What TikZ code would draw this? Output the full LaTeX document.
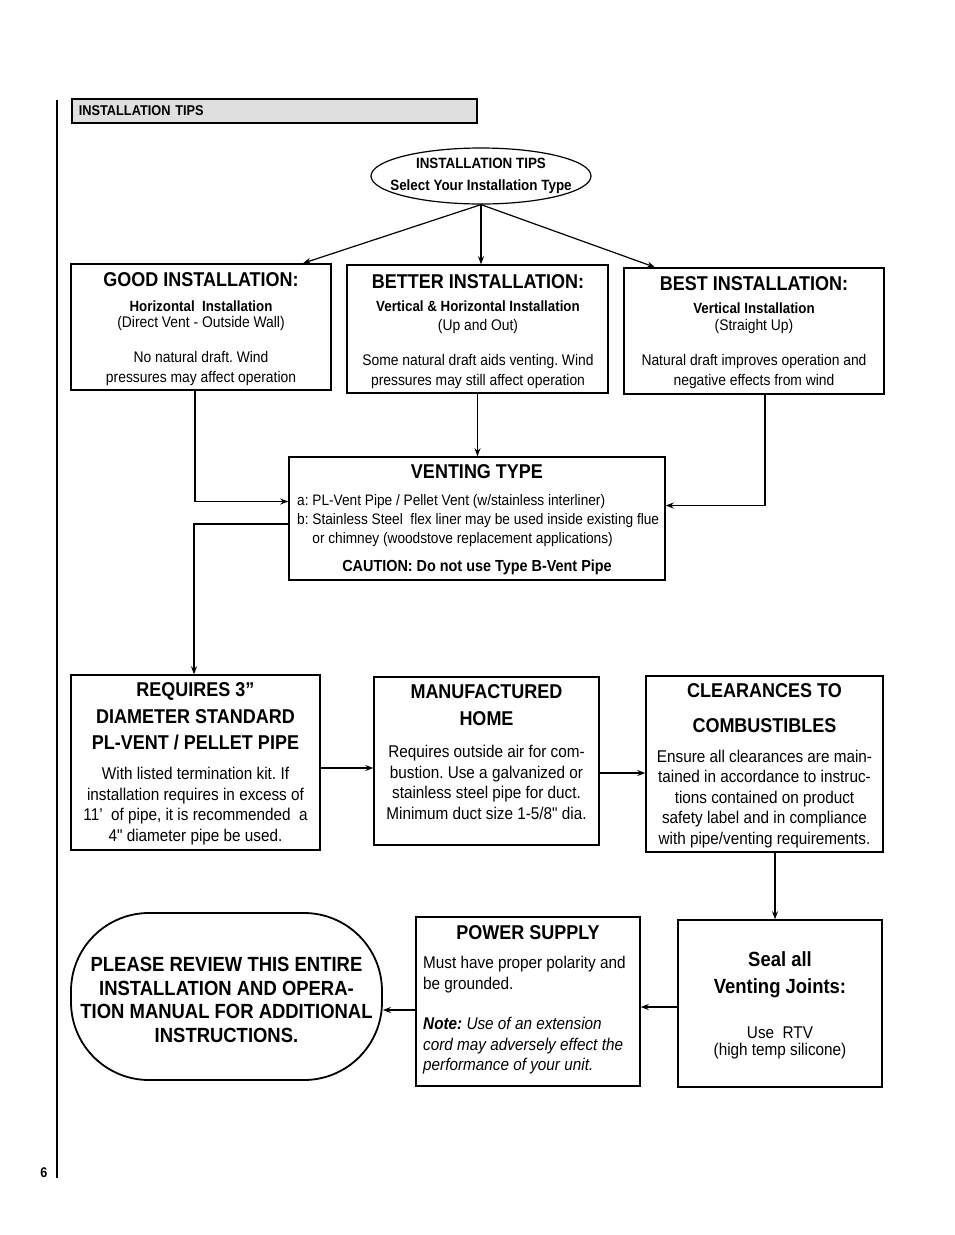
\documentclass[tikz,border=0pt]{standalone}
\usepackage{fontspec}
\setmainfont{Liberation Sans}[FakeStretch=0.9, Ligatures=TeXOff]
\usetikzlibrary{arrows.meta,shapes.geometric}
\tikzset{
    box/.style={draw, line width=1.5pt, inner sep=0pt},
    ttl/.style={font=\bfseries\fontsize{20}{26}\selectfont, align=center, inner sep=0pt},
    sub/.style={font=\bfseries\fontsize{14.8}{20}\selectfont, align=center, inner sep=0pt},
    txt/.style={font=\fontsize{15.4}{20}\selectfont, align=center, inner sep=0pt},
    txtl/.style={font=\fontsize{17}{20.5}\selectfont, align=center, inner sep=0pt},
    flow/.style={line width=1.2pt, -{Stealth[length=8pt,width=6pt]}}
}
\frenchspacing

\begin{document}
\begin{tikzpicture}[x=1pt,y=-1pt]

		% Page
		\fill [white] (0,0) rectangle (954,1235);
		\useasboundingbox (0,0) rectangle (954,1235);
		\draw [line width=1.8pt] (57,100) -- (57,1178);
		\node [font=\bfseries\fontsize{14}{16}\selectfont] (pagenum) at (44,1173) {6};

		% Header bar
		\node [box, fill=gray!25, anchor=west, inner xsep=7pt, text width=391pt, minimum height=24pt, align=left, font=\bfseries\fontsize{14.2}{16}\selectfont] (hdr) at (71,111) {INSTALLATION TIPS};

		% Start
		\node [draw, ellipse, line width=1.2pt, minimum width=220pt, minimum height=56pt, inner sep=0pt] (tips) at (481,176) {};
		\node [sub, font=\bfseries\fontsize{14.9}{22}\selectfont] at (tips.center) {INSTALLATION TIPS\\Select Your Installation Type};

		% Good installation
		\node [box, minimum width=260pt, minimum height=126pt] (good) at (201,327) {};
		\node [ttl] at (201,280) {GOOD INSTALLATION:};
		\node [sub] at (201,306) {Horizontal\ \ Installation};
		\node [txt] at (201,324) {(Direct Vent - Outside Wall)};
		\node [txt] at (201,369) {No natural draft. Wind\\pressures may affect operation};

		% Better installation
		\node [box, minimum width=261pt, minimum height=128pt] (better) at (477.5,329) {};
		\node [ttl] at (478,282) {BETTER INSTALLATION:};
		\node [sub] at (478,306) {Vertical \& Horizontal Installation};
		\node [txt] at (478,327) {(Up and Out)};
		\node [txt] at (478,372) {Some natural draft aids venting. Wind\\pressures may still affect operation};

		% Best installation
		\node [box, minimum width=260pt, minimum height=126pt] (best) at (754,331) {};
		\node [ttl] at (754,284) {BEST INSTALLATION:};
		\node [sub] at (754,308) {Vertical Installation};
		\node [txt] at (754,327) {(Straight Up)};
		\node [txt] at (754,372) {Natural draft improves operation and\\negative effects from wind};

		% Venting type
		\node [box, minimum width=376pt, minimum height=123pt] (venting) at (477,518.5) {};
		\node [ttl] at (477,472) {VENTING TYPE};
		\node [txt, anchor=west, align=left, font=\fontsize{15.2}{19}\selectfont] at (297,521) {a: PL-Vent Pipe / Pellet Vent (w/stainless interliner)\\b: Stainless Steel\ \ flex liner may be used inside existing flue\\\phantom{b: }or chimney (woodstove replacement applications)};
		\node [sub, font=\bfseries\fontsize{16}{19}\selectfont] at (477,567) {CAUTION: Do not use Type B-Vent Pipe};

		% Pipe
		\node [box, minimum width=249pt, minimum height=175pt] (pipe) at (195.5,762.5) {};
		\node [ttl, font=\bfseries\fontsize{20}{26.5}\selectfont] at (195.5,716.5) {REQUIRES 3”\\DIAMETER STANDARD\\PL-VENT / PELLET PIPE};
		\node [txtl] at (195.5,806) {With listed termination kit. If\\installation requires in excess of\\11’\ \ of pipe, it is recommended\ \ a\\4" diameter pipe be used.};

		% Manufactured home
		\node [box, minimum width=225pt, minimum height=168pt] (home) at (486.5,761) {};
		\node [ttl, font=\bfseries\fontsize{20}{27}\selectfont] at (486.5,705.5) {MANUFACTURED\\HOME};
		\node [txtl] at (486.5,782.5) {Requires outside air for com-\\bustion. Use a galvanized or\\stainless steel pipe for duct.\\Minimum duct size 1-5/8" dia.};

		% Clearances
		\node [box, minimum width=237pt, minimum height=176pt] (clear) at (764.5,764) {};
		\node [ttl] at (764.5,708.5) {CLEARANCES TO\\[9pt]COMBUSTIBLES};
		\node [txtl] at (764.5,799) {Ensure all clearances are main-\\tained in accordance to instruc-\\tions contained on product\\safety label and in compliance\\with pipe/venting requirements.};

		% Seal joints
		\node [box, minimum width=204pt, minimum height=167pt] (seal) at (780,1003.5) {};
		\node [ttl, font=\bfseries\fontsize{20.5}{27}\selectfont] at (780,974.5) {Seal all\\Venting Joints:};
		\node [txtl, font=\fontsize{17}{17}\selectfont] at (780,1042.5) {Use\ \ RTV\\(high temp silicone)};

		% Power supply
		\node [box, minimum width=224pt, minimum height=169pt] (power) at (528,1001.5) {};
		\node [ttl] at (528,933) {POWER SUPPLY};
		\node [txtl, anchor=west, align=left] at (423,974.5) {Must have proper polarity and\\be grounded.};
		\node [txtl, anchor=west, align=left, font=\itshape\fontsize{17}{20.5}\selectfont] at (423,1046) {\textbf{Note:} Use of an extension\\cord may adversely effect the\\performance of your unit.};

		% Review manual
		\node [box, line width=1.8pt, rounded corners=78pt, minimum width=311pt, minimum height=167pt] (review) at (226.5,996.5) {};
		\node [ttl, font=\bfseries\fontsize{20.5}{23.5}\selectfont] at (226.5,1000) {PLEASE REVIEW THIS ENTIRE\\INSTALLATION AND OPERA-\\TION MANUAL FOR ADDITIONAL\\INSTRUCTIONS.};

		% Connectors
		\draw [flow] (tips.south) -- ([xshift=102pt]good.north);
		\draw [flow] (tips.south) -- (tips.south |- better.north);
		\draw [flow] (tips.south) -- ([xshift=-99pt]best.north);
		\draw [flow] ([xshift=-6pt]good.south) |- ([yshift=17pt]venting.west);
		\draw [flow] (better.south) -- (better.south |- venting.north);
		\draw [flow] ([xshift=11pt]best.south) |- ([yshift=13pt]venting.east);
		\draw [flow] ([yshift=-5.5pt]venting.west) -| ([xshift=-1.5pt]pipe.north);
		\draw [flow] ([yshift=-5.5pt]pipe.east) -- ([yshift=-5.5pt]pipe.east -| home.west);
		\draw [flow] ([yshift=-12pt]home.east) -- ([yshift=-12pt]home.east -| clear.west);
		\draw [flow] ([xshift=10.5pt]clear.south) -- ([xshift=10.5pt]clear.south |- seal.north);
		\draw [flow] ([yshift=-3.5pt]seal.west) -- ([yshift=-3.5pt]seal.west -| power.east);
		\draw [flow] ([yshift=-8.5pt]power.west) -- ([yshift=-8.5pt]power.west -| review.east);

	\end{tikzpicture}
\end{document}
